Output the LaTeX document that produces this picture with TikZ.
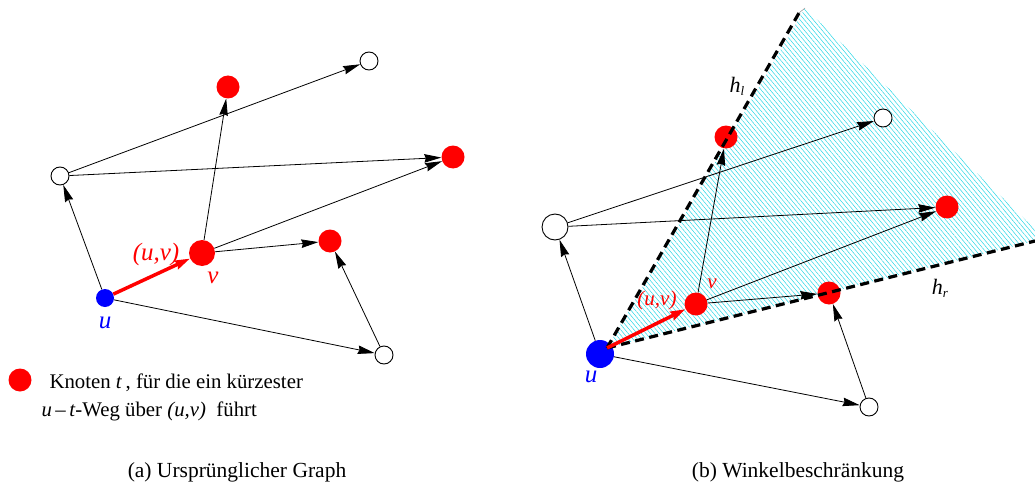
\documentclass[tikz,border=0pt]{standalone}
\usepackage{fontspec}
\setmainfont{Liberation Serif}
\usepackage{xcolor}
\definecolor{vred}{RGB}{255,0,0}
\definecolor{ublue}{RGB}{0,0,255}
\definecolor{hatchcyan}{RGB}{40,215,230}
\usetikzlibrary{arrows.meta,positioning,patterns.meta}
\tikzset{
  redvert/.style={circle, fill=vred, inner sep=0pt, minimum size=#1},
  whitevert/.style={circle, draw=black, line width=0.9pt, fill=white, inner sep=0pt, minimum size=#1},
  bluevert/.style={circle, fill=ublue, inner sep=0pt, minimum size=#1},
  edge/.style={-{Stealth[length=17pt,width=8.5pt,inset=1.5pt]}, line width=0.8pt},
  uvedge/.style={-{Stealth[length=15pt,width=9pt,inset=1.5pt]}, line width=3.5pt, vred},
  ray/.style={dash pattern=on 9pt off 5.5pt, line width=3.2pt},
  lab/.style={font=\fontsize{25}{29}\selectfont\itshape},
  capt/.style={font=\fontsize{21.5}{25}\selectfont},
}
\begin{document}
\begin{tikzpicture}[x=1pt,y=-1pt]
  \useasboundingbox (0,0) rectangle (1035,484);

  % (a) original graph
  \node[bluevert=18pt] (ua) at (105,298) {};
  \node[redvert=26pt] (va) at (202,253) {};
  \node[whitevert=18pt] (wla) at (60,176) {};
  \node[redvert=23pt] (rta) at (228,87) {};
  \node[whitevert=18pt] (wta) at (369,61) {};
  \node[redvert=23pt] (rra) at (453,157) {};
  \node[redvert=23pt] (rma) at (330,241) {};
  \node[whitevert=18pt] (wba) at (384,355) {};

  \draw[edge] (ua) -- (wla);
  \draw[edge] (ua) -- (wba);
  \draw[edge] (wba) -- (rma);
  \draw[edge] (va) -- (rma);
  \draw[edge] (va) -- (rta);
  \draw[edge] (va) -- (rra);
  \draw[edge] (wla) -- (wta);
  \draw[edge] (wla) -- (rra);
  \draw[uvedge] (ua) -- (va);

  \node[lab, text=vred] (uva) at (156,254) {(u,v)};
  \node[lab, text=vred] (vla) at (213,278) {v};
  \node[lab, text=ublue] (ula) at (105,323) {u};

  % legend
  \node[redvert=23pt] (legdot) at (20,380) {};
  \node[anchor=base west, font=\fontsize{20.8}{24}\selectfont] (leg1) at (46,388)
    {Knoten \textit{t}\,, für die ein kürzester};
  \node[anchor=base west, font=\fontsize{20.8}{24}\selectfont] (leg2) at (38,416)
    {\textit{u}\,--\,\textit{t}-Weg über \textit{(u,v)} \ führt};

  % (b) angle restriction
  \coordinate (apex) at (607,348);
  \coordinate (topc) at (805,8);
  \coordinate (hltip) at (799,13);
  \coordinate (rgt1) at (1035,229);
  \coordinate (hrtip) at (1035,241);
  \fill[pattern={Lines[angle=-50,distance=3.4pt,line width=0.5pt]}, pattern color=hatchcyan]
    (apex) -- (topc) -- (rgt1) -- (hrtip) -- cycle;
  \draw[gray, line width=0.4pt] (hltip) -- (topc);

  \node[bluevert=28pt] (ub) at (600,354) {};
  \node[redvert=23pt] (vb) at (696,304) {};
  \node[whitevert=26pt] (wlb) at (555,227) {};
  \node[redvert=23pt] (rtb) at (726,137) {};
  \node[whitevert=18pt] (wtb) at (883,118) {};
  \node[redvert=23pt] (rrb) at (947,207) {};
  \node[redvert=23pt] (rmb) at (829,293) {};
  \node[whitevert=18pt] (wbb) at (869,407) {};

  \draw[edge] (ub) -- (wlb);
  \draw[edge] (ub) -- (wbb);
  \draw[edge] (wbb) -- (rmb);
  \draw[edge] (vb) -- (rmb);
  \draw[edge] (vb) -- (rtb);
  \draw[edge] (vb) -- (rrb);
  \draw[edge] (wlb) -- (wtb);
  \draw[edge] (wlb) -- (rrb);

  \draw[ray] (apex) -- (hltip);
  \draw[ray] (apex) -- (hrtip);
  \draw[uvedge] (apex) -- (vb);

  \node[font=\fontsize{22}{26}\selectfont] (hl) at (737,86) {\textit{h}\raisebox{-3pt}{\fontsize{13}{15}\selectfont\textit{l}}};
  \node[font=\fontsize{22}{26}\selectfont] (hr) at (940,288) {\textit{h}\raisebox{-3pt}{\fontsize{13}{15}\selectfont\textit{r}}};
  \node[lab, text=vred, font=\fontsize{21}{25}\selectfont\itshape] (uvb) at (657,300) {(u,v)};
  \node[lab, text=vred, font=\fontsize{21}{25}\selectfont\itshape] (vlb) at (712,284) {v};
  \node[lab, text=ublue] (ulb) at (591,377) {u};

  % captions
  \node[capt] (capa) at (237,472) {(a) Ursprünglicher Graph};
  \node[capt] (capb) at (798,472) {(b) Winkelbeschränkung};
\end{tikzpicture}
\end{document}
